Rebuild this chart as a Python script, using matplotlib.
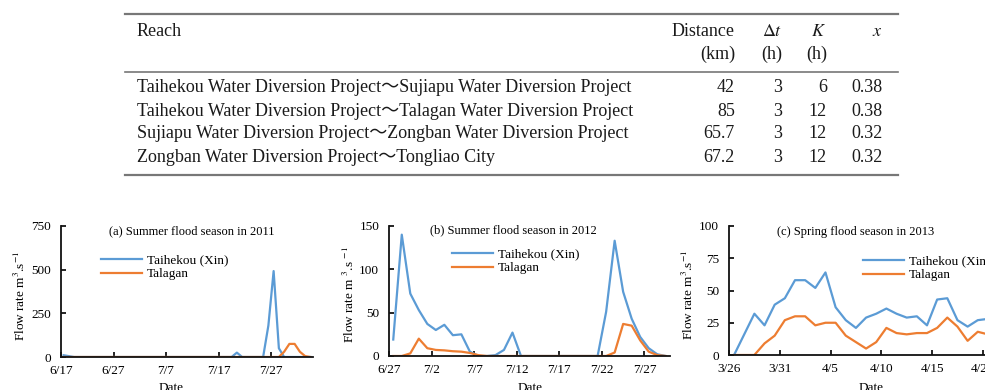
import numpy as np
import matplotlib
matplotlib.use('Agg')
import matplotlib.pyplot as plt
from matplotlib.lines import Line2D

plt.rcParams['font.family'] = ['Liberation Serif', 'Noto Sans CJK SC']
plt.rcParams['mathtext.fontset'] = 'stix'

W, H = 985, 390

# ---- table data ----
reaches = ['Taihekou Water Diversion Project～Sujiapu Water Diversion Project',
           'Taihekou Water Diversion Project～Talagan Water Diversion Project',
           'Sujiapu Water Diversion Project～Zongban Water Diversion Project',
           'Zongban Water Diversion Project～Tongliao City']
distance = ['42', '85', '65.7', '67.2']
delta_t = ['3', '3', '3', '3']
k_vals = ['6', '12', '12', '12']
x_vals = ['0.38', '0.38', '0.32', '0.32']

# ---- panel (a) summer 2011, daily from 6/17 ----
ticks_a = ['6/17', '6/27', '7/7', '7/17', '7/27']
taihekou_a = [10, 5, 0, 0, 0, 0, 0, 0, 0, 0,
              0, 0, 0, 0, 0, 0, 0, 0, 0, 0,
              0, 0, 0, 0, 0, 0, 0, 0, 0, 0,
              0, 0, 0, 25, 0, 0, 0, 0, 0, 180,
              492, 50, 0, 0, 0, 0, 0, 0]
talagan_a = [0, 0, 0, 0, 0, 0, 0, 0, 0, 0,
             0, 0, 0, 0, 0, 0, 0, 0, 0, 0,
             0, 0, 0, 0, 0, 0, 0, 0, 0, 0,
             0, 0, 0, 0, 0, 0, 0, 0, 0, 0,
             0, 0, 30, 75, 75, 30, 5, 0]

# ---- panel (b) summer 2012, daily from 6/27 ----
ticks_b = ['6/27', '7/2', '7/7', '7/12', '7/17', '7/22', '7/27']
taihekou_b = [19, 140, 72, 53, 37, 30, 36, 24, 25, 5,
              0, 0, 1, 7, 27, 0, 0, 0, 0, 0,
              0, 0, 0, 0, 0, 51, 133, 74, 43, 22,
              9, 2, 0]
talagan_b = [0, 0, 3, 20, 9, 7, 6.5, 5.5, 5, 3.5,
             1, 0, 0, 0, 0, 0, 0, 0, 0, 0,
             0, 0, 0, 0, 0, 0, 4, 37, 35, 18,
             5, 1, 0]

# ---- panel (c) spring 2013, daily from 3/26 ----
ticks_c = ['3/26', '3/31', '4/5', '4/10', '4/15', '4/20']
taihekou_c = [0, 16, 32, 23, 39, 44, 58, 58, 52, 64,
              37, 27, 21, 29, 32, 36, 32, 29, 30, 23,
              43, 44, 27, 22, 27, 28]
talagan_c = [0, 0, 0, 9, 15, 27, 30, 30, 23, 25,
             25, 15, 10, 5, 10, 21, 17, 16, 17, 17,
             21, 29, 22, 11, 18, 16]

blue = '#5B9BD5'
orange = '#ED7D31'

fig = plt.figure(figsize=(W / 100, H / 100), dpi=100)


def fx(x):
    return x / W


def fy(y):
    return 1 - y / H


# ---- table ----
tcol = '#1a1a1a'
rule = '#777777'
fig.add_artist(Line2D([fx(125), fx(898)], [fy(14), fy(14)], color=rule, lw=1.6))
fig.add_artist(Line2D([fx(125), fx(898)], [fy(72), fy(72)], color=rule, lw=1.2))
fig.add_artist(Line2D([fx(125), fx(898)], [fy(175), fy(175)], color=rule, lw=1.6))

ts = 13
fig.text(fx(137), fy(31), 'Reach', fontsize=ts, color=tcol, va='center', ha='left')
fig.text(fx(735), fy(31), 'Distance', fontsize=ts, color=tcol, va='center', ha='right')
fig.text(fx(735), fy(54), '(km)', fontsize=ts, color=tcol, va='center', ha='right')
fig.text(fx(782), fy(31), r'$\Delta t$', fontsize=ts, color=tcol, va='center', ha='right')
fig.text(fx(782), fy(54), '(h)', fontsize=ts, color=tcol, va='center', ha='right')
fig.text(fx(826), fy(31), r'$K$', fontsize=ts, color=tcol, va='center', ha='right')
fig.text(fx(827), fy(54), '(h)', fontsize=ts, color=tcol, va='center', ha='right')
fig.text(fx(883), fy(31), r'$x$', fontsize=ts, color=tcol, va='center', ha='right')

row_y = [88, 111, 133, 157]
for i, y in enumerate(row_y):
    fig.text(fx(137), fy(y), reaches[i], fontsize=ts, color=tcol, va='center', ha='left')
    fig.text(fx(735), fy(y), distance[i], fontsize=ts, color=tcol, va='center', ha='right')
    fig.text(fx(782), fy(y), delta_t[i], fontsize=ts, color=tcol, va='center', ha='right')
    fig.text(fx(827), fy(y), k_vals[i], fontsize=ts, color=tcol, va='center', ha='right')
    fig.text(fx(883), fy(y), x_vals[i], fontsize=ts, color=tcol, va='center', ha='right')


# ---- charts ----
def make_panel(left, right, top, bottom, s1, s2, ymax, ystep, ticklabels, step,
               title, tpos, legpos, ylab, ylab_x, date_x):
    ax = fig.add_axes([fx(left), fy(bottom), fx(right - left), (bottom - top) / H])
    n = len(s1)
    x = np.arange(n)
    ax.plot(x, s1, color=blue, lw=1.6, label='Taihekou (Xin)')
    ax.plot(x, s2, color=orange, lw=1.6, label='Talagan')
    ax.set_xlim(-0.5, n - 0.5)
    ax.set_ylim(0, ymax)
    ax.set_yticks(np.arange(0, ymax + 1, ystep))
    ax.set_xticks(np.arange(len(ticklabels)) * step - 0.5)
    ax.set_xticklabels(ticklabels)
    for sp in ['top', 'right']:
        ax.spines[sp].set_visible(False)
    for sp in ['left', 'bottom']:
        ax.spines[sp].set_linewidth(1.3)
        ax.spines[sp].set_color('#111111')
    ax.tick_params(direction='in', length=3.5, width=1.2, labelsize=9.5)
    ax.tick_params(axis='x', pad=6)
    ax.tick_params(axis='y', pad=7)
    ax.patch.set_visible(False)
    fig.text(fx(tpos[0]), fy(tpos[1]), title, fontsize=9, ha='center', va='center')
    ax.legend(loc='upper left', bbox_to_anchor=(fx(legpos[0]), fy(legpos[1])),
              bbox_transform=fig.transFigure, frameon=False, fontsize=9.5,
              borderpad=0, borderaxespad=0, handlelength=3.1, handletextpad=0.4,
              labelspacing=0.15)
    fig.text(fx(ylab_x), fy((top + bottom) / 2 + 4), ylab, fontsize=9.5, rotation=90,
             ha='center', va='center')
    fig.text(fx(date_x), fy(388), 'Date', fontsize=9.5, ha='center', va='center')
    return ax


make_panel(61, 313, 226, 357, taihekou_a, talagan_a, 750, 250, ticks_a, 10,
           '(a) Summer flood season in 2011', (192, 231), (101, 254),
           r'Flow rate m$^{3}$.s$^{-1}$', 20, 171)
make_panel(389, 670, 226, 356, taihekou_b, talagan_b, 150, 50, ticks_b, 5,
           '(b) Summer flood season in 2012', (513, 230), (452, 248),
           r'Flow rate m $^{3}$.s $^{-1}$', 349, 530)
make_panel(729, 993, 226, 355, taihekou_c, talagan_c, 100, 25, ticks_c, 5,
           '(c) Spring flood season in 2013', (856, 232), (863, 255),
           r'Flow rate m$^{3}$.s$^{-1}$', 688, 871)

fig.savefig('out.png', dpi=100)
